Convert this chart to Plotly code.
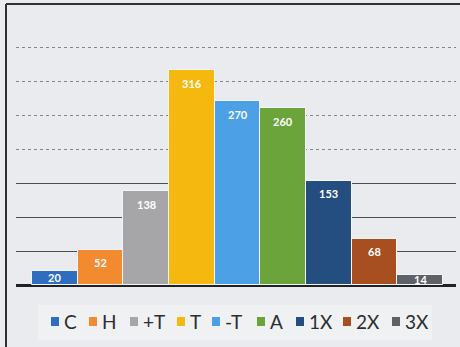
import plotly.graph_objects as go

# Counts per group
categories = ["C", "H", "+T", "T", "-T", "A", "1X", "2X", "3X"]
values = [20, 52, 138, 316, 270, 260, 153, 68, 14]
colors = ["#2F6DC0", "#F28A30", "#A6A6A8", "#F5B80F", "#4BA0E6",
          "#6BA43A", "#244D80", "#A84F22", "#5E6166"]

# Figure geometry (pixels)
W, H = 460, 347
M_L, M_R, M_T, M_B = 16, 4, 46, 62
PLOT_W = W - M_L - M_R
PLOT_H = H - M_T - M_B
Y_MAX = 351.5
# legend swatch centres (px from left edge of page)
legend_px = [55, 93, 134, 181, 216, 261, 300, 347, 396]

BG = "#E9EBEE"
FONT = "Lato"


def px_to_paper_x(px):
    return (px - M_L) / PLOT_W


def py_to_paper_y(py):
    return (H - M_B - py) / PLOT_H


fig = go.Figure()
fig.add_trace(go.Bar(
    x=categories,
    y=values,
    marker=dict(color=colors, line=dict(color="#F4F5F7", width=1)),
    hoverinfo="x+y",
    showlegend=False,
))

# value labels inside the top of each bar
px_per_unit = PLOT_H / Y_MAX
for cat, val in zip(categories, values):
    shift = min(13.0, val * px_per_unit * 0.45)
    fig.add_annotation(
        x=cat, y=val, xref="x", yref="y",
        text=str(val), showarrow=False,
        yshift=-shift, yanchor="middle",
        font=dict(family=FONT, size=11, color="white", weight="bold"),
    )

shapes = []
# frame lines on the left and top
shapes.append(dict(type="line", xref="paper", yref="paper",
                   x0=px_to_paper_x(6), x1=px_to_paper_x(6),
                   y0=py_to_paper_y(4), y1=py_to_paper_y(H + 2),
                   line=dict(color="#2E3033", width=2)))
shapes.append(dict(type="line", xref="paper", yref="paper",
                   x0=px_to_paper_x(6), x1=px_to_paper_x(W + 2),
                   y0=py_to_paper_y(4), y1=py_to_paper_y(4),
                   line=dict(color="#2E3033", width=2)))
# legend panel
shapes.append(dict(type="rect", xref="paper", yref="paper", layer="below",
                   x0=px_to_paper_x(38), x1=px_to_paper_x(432),
                   y0=py_to_paper_y(340), y1=py_to_paper_y(305),
                   fillcolor="#F0F1F3", line=dict(width=0)))

# legend entries: swatch + label
for cat, col, cx in zip(categories, colors, legend_px):
    shapes.append(dict(type="rect", xref="paper", yref="paper",
                       x0=px_to_paper_x(cx - 4), x1=px_to_paper_x(cx + 4),
                       y0=py_to_paper_y(326), y1=py_to_paper_y(317),
                       fillcolor=col, line=dict(width=0)))
    fig.add_annotation(
        x=px_to_paper_x(cx + 7), y=py_to_paper_y(321),
        xref="paper", yref="paper", xanchor="left", yanchor="middle",
        text=cat, showarrow=False,
        font=dict(family=FONT, size=19, color="#2B2D30"),
    )

n = len(categories)
pitch = 45.7  # px per category
fig.update_layout(
    width=W, height=H,
    margin=dict(l=M_L, r=M_R, t=M_T, b=M_B),
    paper_bgcolor=BG, plot_bgcolor=BG,
    bargap=0.0,
    shapes=shapes,
    xaxis=dict(
        range=[-0.5 - (32 - M_L) / pitch, n - 0.5 + (M_L + PLOT_W - 443) / pitch],
        showticklabels=False, showgrid=False, zeroline=False,
        ticks="", fixedrange=True,
    ),
    yaxis=dict(
        range=[0, Y_MAX],
        tickvals=[50, 100, 150],
        showticklabels=False, ticks="",
        showgrid=True, gridcolor="#4A4D52", gridwidth=1,
        zeroline=True, zerolinecolor="#202124", zerolinewidth=3,
        minor=dict(tickvals=[200, 250, 300, 350], showgrid=True,
                   gridcolor="#7E8694", gridwidth=1, griddash="dot"),
        fixedrange=True,
    ),
    font=dict(family=FONT),
)

fig.write_html("out.html")
